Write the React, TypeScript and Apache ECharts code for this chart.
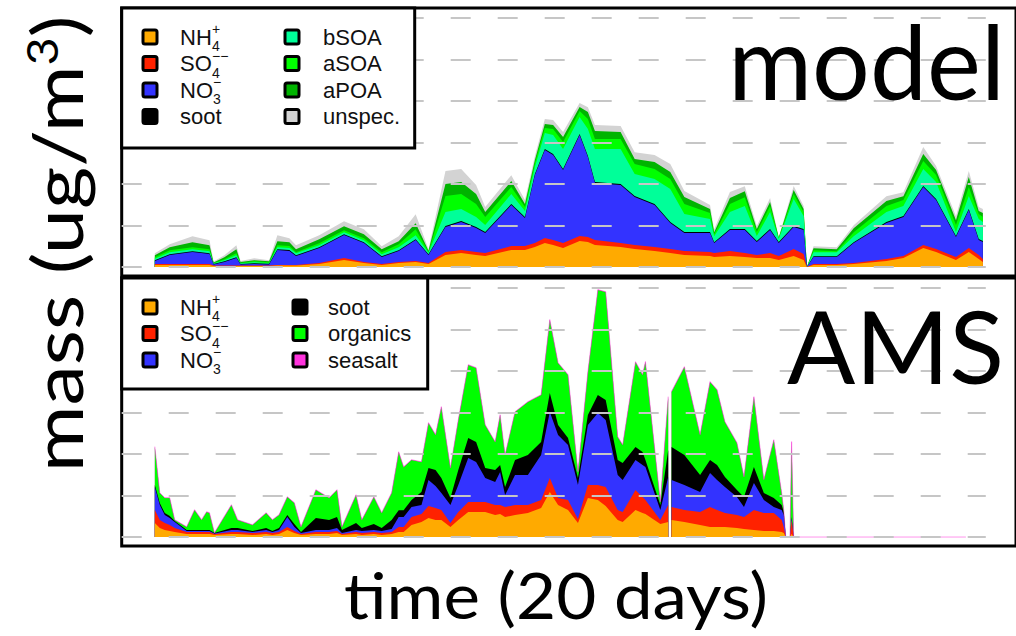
import React, { useEffect, useRef } from "react";
import * as echarts from "echarts";

// ---------- model panel (time in days, mass in ug/m3) ----------
const modelDays = [0, 0.36, 0.91, 1.32, 1.42, 1.68, 1.97, 2.07, 2.4, 2.76, 2.96, 3.25, 3.41, 3.97, 4.57, 5.05, 5.48, 5.89, 6.3, 6.61, 7.02, 7.4, 7.76, 7.98, 8.61, 8.94, 9.18, 9.42, 9.62, 9.86, 10.26, 10.46, 10.63, 11.25, 11.59, 12.07, 12.45, 12.79, 13.41, 13.51, 13.89, 14.25, 14.54, 14.86, 15.07, 15.43, 15.67, 15.75, 15.91, 16.47, 16.88, 17.67, 18.08, 18.56, 18.87, 19.35, 19.66, 19.9, 20.0];
const modelNH4 = [0.24, 0.24, 0.24, 0.24, 0.12, 0.12, 0.12, 0.12, 0.12, 0.12, 0.18, 0.18, 0.18, 0.36, 0.84, 0.48, 0.24, 0.48, 0.6, 0.36, 1.45, 1.69, 1.45, 1.33, 2.05, 2.05, 2.41, 2.89, 2.65, 2.29, 3.13, 3.01, 2.65, 2.41, 2.17, 1.93, 1.69, 1.45, 1.33, 1.2, 1.33, 1.2, 1.08, 1.08, 0.84, 1.33, 0.84, 0, 0.24, 0.24, 0.36, 0.72, 1.08, 2.29, 1.81, 0.84, 1.81, 0.96, 0.6];
const modelSO4 = [0.12, 0.12, 0.12, 0.12, 0.06, 0.06, 0.06, 0.06, 0.06, 0.06, 0.06, 0.06, 0.06, 0.12, 0.24, 0.12, 0.12, 0.12, 0.12, 0.12, 0.36, 0.36, 0.36, 0.36, 0.48, 0.48, 0.48, 0.6, 0.6, 0.6, 0.6, 0.6, 0.6, 0.48, 0.48, 0.48, 0.48, 0.48, 0.48, 0.48, 0.6, 0.48, 0.36, 0.6, 0.48, 0.84, 0.72, 0, 0.12, 0.12, 0.12, 0.24, 0.24, 0.36, 0.36, 0.36, 0.48, 0.48, 0.36];
const modelNO3 = [0.36, 1.08, 1.45, 1.2, 0.12, 0.42, 0.9, 0.12, 0.18, 0.12, 1.8, 1.7, 1.08, 1.8, 2.77, 2.29, 0.84, 1.33, 2.53, 0.96, 3.01, 3.37, 2.89, 2.41, 4.94, 3.37, 8.19, 10.6, 10.24, 8.8, 12.17, 9.64, 6.87, 6.99, 5.78, 5.06, 3.13, 2.17, 2.29, 1.2, 2.53, 2.77, 1.57, 2.77, 1.57, 2.65, 2.89, 0, 0.84, 0.84, 2.41, 4.34, 4.7, 6.99, 5.9, 2.41, 4.58, 1.81, 2.05];
const modelSoot = [0.1, 0.1, 0.1, 0.1, 0.08, 0.1, 0.1, 0.08, 0.1, 0.1, 0.1, 0.1, 0.1, 0.1, 0.1, 0.1, 0.1, 0.1, 0.1, 0.1, 0.12, 0.12, 0.12, 0.12, 0.12, 0.12, 0.12, 0.12, 0.12, 0.12, 0.12, 0.12, 0.12, 0.12, 0.12, 0.12, 0.12, 0.12, 0.12, 0.12, 0.12, 0.12, 0.12, 0.12, 0.12, 0.12, 0.12, 0, 0.1, 0.1, 0.1, 0.12, 0.12, 0.12, 0.12, 0.12, 0.12, 0.12, 0.12];
const modelBSOA = [0.18, 0.24, 0.24, 0.24, 0.06, 0.12, 0.24, 0.06, 0.12, 0.06, 0.24, 0.24, 0.24, 0.24, 0.24, 0.24, 0.24, 0.36, 0.48, 0.18, 1.69, 1.45, 1.2, 0.84, 1.2, 0.72, 0.84, 1.93, 2.29, 2.41, 2.05, 3.25, 3.98, 4.22, 2.65, 3.01, 3.98, 2.17, 1.57, 0.72, 2.05, 2.77, 0.6, 2.05, 0.36, 3.25, 1.57, 0, 0.48, 0.48, 0.72, 1.2, 1.2, 2.05, 2.05, 0.48, 1.57, 2.41, 2.29];
const modelASOA = [0.18, 0.24, 0.24, 0.24, 0.06, 0.12, 0.24, 0.06, 0.12, 0.12, 0.24, 0.24, 0.12, 0.24, 0.24, 0.24, 0.24, 0.36, 0.72, 0.12, 1.93, 1.81, 1.57, 0.96, 0.84, 0.48, 0.48, 0.6, 0.72, 0.84, 0.72, 1.2, 1.2, 1.2, 1.2, 1.2, 1.2, 1.2, 0.72, 0.24, 0.96, 1.08, 0.48, 0.72, 0.12, 0.6, 0.48, 0, 0.24, 0.12, 0.48, 0.72, 0.72, 0.96, 0.84, 0.84, 1.08, 0.6, 0.6];
const modelAPOA = [0.24, 0.36, 0.6, 0.48, 0.06, 0.24, 0.48, 0.12, 0.12, 0.12, 0.48, 0.48, 0.36, 0.48, 0.48, 0.48, 0.36, 0.36, 0.72, 0.12, 1.45, 1.45, 1.2, 0.6, 0.72, 0.36, 0.36, 0.48, 0.48, 0.6, 0.48, 0.84, 0.96, 0.84, 0.6, 0.84, 0.84, 0.84, 0.48, 0.24, 0.72, 0.72, 0.36, 0.48, 0.06, 0.48, 0.36, 0, 0.24, 0.24, 0.48, 0.6, 0.48, 0.84, 0.6, 0.6, 1.2, 0.36, 0.48];
const modelUnspec = [0.24, 0.36, 0.72, 0.6, 0.12, 0.24, 0.48, 0.12, 0.24, 0.12, 0.72, 0.48, 0.48, 0.48, 0.6, 0.6, 0.36, 0.6, 1.08, 0.18, 1.57, 1.57, 1.08, 0.6, 0.72, 0.48, 0.48, 0.6, 0.6, 0.6, 0.48, 0.6, 0.72, 0.72, 0.84, 0.84, 0.96, 0.72, 0.48, 0.36, 0.72, 0.6, 0.36, 0.48, 0.06, 0.48, 0.36, 0, 0.24, 0.24, 0.36, 0.6, 0.48, 0.84, 0.48, 0.48, 0.72, 0.48, 0.48];

// ---------- AMS panel ----------
const amsDays = [0, 0.12, 0.24, 0.36, 0.48, 0.77, 0.96, 1.13, 1.25, 1.32, 1.44, 1.85, 2.0, 2.36, 2.69, 2.84, 3.0, 3.2, 3.37, 3.53, 3.89, 4.21, 4.4, 4.52, 4.86, 5.0, 5.29, 5.48, 5.72, 5.89, 6.01, 6.2, 6.44, 6.61, 6.78, 6.92, 7.14, 7.33, 7.57, 7.76, 7.98, 8.22, 8.34, 8.46, 8.7, 9.01, 9.33, 9.54, 9.74, 9.98, 10.22, 10.46, 10.7, 10.89, 11.18, 11.3, 11.61, 11.78, 11.85, 12.21, 12.4, 12.44, 12.48, 12.79, 13.17, 13.41, 13.58, 13.77, 14.06, 14.23, 14.47, 14.71, 14.95, 15.14, 15.19, 15.24, 15.34, 15.38, 15.43, 19.59];
const amsNH4 = [1.69, 1.08, 0.84, 0.72, 0.6, 0.36, 0.36, 0.36, 0.36, 0.36, 0.24, 0.36, 0.36, 0.24, 0.36, 0.24, 0.36, 0.84, 0.48, 0.24, 0.36, 0.36, 0.48, 0.24, 0.36, 0.24, 0.36, 0.24, 0.36, 0.6, 0.6, 1.45, 1.81, 2.29, 2.05, 2.05, 1.2, 2.05, 3.01, 3.01, 3.01, 2.65, 2.77, 2.41, 2.65, 2.89, 3.49, 5.42, 3.86, 3.25, 1.69, 4.7, 4.46, 3.73, 2.05, 1.81, 3.25, 2.89, 2.77, 1.57, 1.81, null, 2.05, 1.81, 1.45, 1.2, 1.2, 1.2, 1.08, 0.96, 0.84, 0.72, 0.72, 0.6, 0.48, 0, 0, 0.36, 0, 0];
const amsSO4 = [1.57, 0.96, 0.84, 0.72, 0.48, 0.24, 0.24, 0.24, 0.24, 0.24, 0.12, 0.24, 0.24, 0.24, 0.24, 0.24, 0.24, 0.36, 0.24, 0.12, 0.24, 0.24, 0.24, 0.12, 0.24, 0.24, 0.24, 0.24, 0.24, 0.6, 0.6, 0.96, 0.96, 1.45, 1.45, 1.2, 0.48, 0.96, 1.2, 1.2, 1.2, 1.2, 1.08, 1.2, 1.2, 0.96, 0.96, 1.69, 0.84, 1.2, 0.48, 1.57, 1.81, 2.29, 1.2, 1.2, 2.41, 1.93, 1.69, 0.48, 2.05, null, 1.57, 1.45, 1.57, 2.41, 2.05, 1.69, 1.57, 1.45, 2.41, 2.17, 2.17, 1.45, 0.72, 0, 0, 1.69, 0, 0];
const amsNO3 = [2.77, 1.81, 0.96, 0.84, 0.72, 0.12, 0.12, 0.12, 0.12, 0.12, 0.06, 0.24, 0.24, 0.12, 0.24, 0.12, 0.24, 1.2, 0.48, 0.12, 0.24, 0.24, 0.36, 0.12, 0.24, 0.24, 0.24, 0.24, 0.36, 1.2, 1.2, 1.2, 1.08, 3.13, 2.65, 2.05, 2.17, 3.25, 5.3, 4.82, 2.89, 2.77, 3.98, 1.45, 3.61, 3.61, 5.42, 7.95, 7.59, 6.63, 4.1, 7.23, 8.67, 8.07, 4.22, 3.86, 3.61, 3.86, 3.98, 1.2, 3.37, null, 3.25, 3.01, 2.41, 4.1, 3.61, 3.13, 2.17, 1.2, 3.25, 1.57, 0.72, 1.2, 1.45, 0, 0, 0.24, 0, 0];
const amsSoot = [0.24, 0.24, 0.24, 0.24, 0.12, 0.12, 0.12, 0.12, 0.12, 0.12, 0.06, 0.24, 0.24, 0.12, 0.24, 0.12, 0.24, 0.24, 0.36, 0.12, 1.45, 1.2, 1.33, 0.36, 0.84, 0.36, 0.72, 0.36, 1.08, 0.84, 0.84, 0.84, 1.57, 1.45, 1.93, 1.81, 0.84, 1.81, 2.41, 2.41, 1.2, 1.45, 0.84, 0.96, 1.81, 2.41, 1.57, 2.29, 1.2, 0.84, 0.84, 1.2, 2.17, 2.41, 1.81, 2.05, 1.57, 1.57, 0.84, 0.6, 3.25, null, 3.98, 3.61, 2.05, 1.57, 1.81, 1.2, 0.84, 1.2, 1.93, 0.84, 1.08, 0.6, 0.36, 0, 0, 0.12, 0, 0];
const amsOrganics = [4.58, 1.2, 1.81, 2.17, 0.12, 0.36, 2.41, 1.2, 2.17, 2.05, 0, 2.77, 0.96, 0.72, 1.81, 1.33, 1.57, 2.17, 2.53, 0.6, 3.37, 2.65, 3.25, 0.36, 3.37, 0.96, 3.25, 1.81, 3.25, 6.99, 5.18, 4.82, 3.61, 5.42, 4.22, 8.55, 3.61, 6.02, 8.8, 8.92, 5.18, 3.37, 6.02, 3.86, 5.78, 6.39, 5.66, 8.8, 7.47, 7.59, 0.72, 5.18, 12.65, 13.01, 2.77, 2.17, 10.24, 9.28, 11.81, 0.36, 6.39, null, 6.63, 10.6, 4.82, 9.4, 9.04, 6.63, 5.66, 2.41, 8.43, 1.57, 6.99, 1.45, 0.24, 0, 0, 9.04, 0, 0];
const amsSeasalt = [0.04, 0.04, 0.04, 0.04, 0.04, 0.04, 0.04, 0.04, 0.04, 0.04, 0.04, 0.04, 0.04, 0.04, 0.04, 0.04, 0.04, 0.04, 0.04, 0.04, 0.04, 0.04, 0.04, 0.04, 0.04, 0.04, 0.04, 0.04, 0.04, 0.04, 0.04, 0.04, 0.04, 0.04, 0.04, 0.04, 0.04, 0.04, 0.04, 0.04, 0.04, 0.04, 0.04, 0.04, 0.04, 0.04, 0.04, 0.04, 0.04, 0.04, 0.04, 0.04, 0.04, 0.04, 0.04, 0.04, 0.04, 0.04, 0.04, 0.04, 0.04, null, 0.04, 0.04, 0.04, 0.04, 0.04, 0.04, 0.04, 0.04, 0.04, 0.04, 0.04, 0.04, 0.04, 0, 0, 0.04, 0, 0];

// horizontal reference lines (ug/m3)
const gridValues = [0, 5, 10, 15, 20, 25, 30];
const gridLineEndDay = 20.07;

// ---------- styling / layout ----------
const X_MIN = -0.8;
const X_MAX = 20.8;
const Y_MIN = -1.08;
const Y_MAX = 31.2;
const PLOT_LEFT = 121.7;
const PLOT_WIDTH = 898.6;
const PANEL_H = 268;
const TOP1 = 8;
const TOP2 = 278;

const C = {
  nh4: "#ffaa00",
  so4: "#ff2200",
  no3: "#3333ff",
  soot: "#000000",
  bsoa: "#00ff99",
  asoa: "#00ff00",
  apoa: "#00b400",
  unspec: "#d3d3d3",
  org: "#00ff00",
  seasalt: "#ff33dd",
};

type Layer = { name: string; values: (number | null)[]; color: string };

function cumulativeSeries(days: number[], layers: Layer[], axis: number, topLine?: string) {
  const n = days.length;
  let run: (number | null)[] = new Array(n).fill(0);
  const cums: (number | null)[][] = [];
  layers.forEach((l) => {
    run = run.map((v, i) => (v == null || l.values[i] == null ? null : (v as number) + (l.values[i] as number)));
    cums.push(run);
  });
  const out: any[] = [];
  for (let k = layers.length - 1; k >= 0; k--) {
    const isTop = k === layers.length - 1 && !!topLine;
    out.push({
      type: "line",
      name: layers[k].name,
      xAxisIndex: axis,
      yAxisIndex: axis,
      data: days.map((d, i) => [d, cums[k][i] == null ? "-" : cums[k][i]]),
      symbol: "none",
      showSymbol: false,
      silent: true,
      connectNulls: false,
      lineStyle: isTop ? { width: 0.7, color: topLine, opacity: 0.75 } : { width: 0, opacity: 0 },
      areaStyle: { color: layers[k].color, opacity: 1 },
      itemStyle: { color: layers[k].color },
      emphasis: { disabled: true },
      z: 2,
    });
  }
  return out;
}

function gridLineSeries(axis: number) {
  return {
    type: "line",
    xAxisIndex: axis,
    yAxisIndex: axis,
    data: [],
    silent: true,
    z: 5,
    markLine: {
      silent: true,
      symbol: ["none", "none"],
      label: { show: false },
      emphasis: { disabled: true },
      lineStyle: { color: "#c6c6c6", width: 2, type: [20, 27] },
      data: gridValues.map((v) => [{ coord: [X_MIN, v] }, { coord: [gridLineEndDay, v] }]),
    },
  };
}

const LEG_FONT = "Liberation Sans, Arial, sans-serif";

function legendEntry(cx: number, tx: number, y: number, color: string, label: any): any[] {
  const els: any[] = [
    {
      type: "rect",
      shape: { x: cx - 7, y: y - 7, width: 14, height: 14, r: 2 },
      style: { fill: color, stroke: "#000", lineWidth: 3 },
      z: 101,
    },
  ];
  const base = typeof label === "string" ? label : label.base;
  els.push({
    type: "text",
    x: tx,
    y: y,
    style: { text: base, font: `22px ${LEG_FONT}`, fill: "#111", align: "left", verticalAlign: "middle" },
    z: 101,
  });
  if (typeof label !== "string") {
    const sx = tx + label.w;
    els.push({
      type: "text",
      x: sx,
      y: y - 8,
      style: { text: label.sup, font: `14px ${LEG_FONT}`, fill: "#111", align: "left", verticalAlign: "middle" },
      z: 101,
    });
    els.push({
      type: "text",
      x: sx,
      y: y + 9,
      style: { text: label.sub, font: `14px ${LEG_FONT}`, fill: "#111", align: "left", verticalAlign: "middle" },
      z: 101,
    });
  }
  return els;
}

const NH4L = { base: "NH", sup: "+", sub: "4", w: 32 };
const SO4L = { base: "SO", sup: "−−", sub: "4", w: 32 };
const NO3L = { base: "NO", sup: "−", sub: "3", w: 33 };

function buildGraphics(): any[] {
  const g: any[] = [];
  // model legend box
  g.push({
    type: "rect",
    shape: { x: PLOT_LEFT, y: TOP1, width: 293, height: 140 },
    style: { fill: "#fff", stroke: "#000", lineWidth: 3 },
    z: 100,
  });
  const r1 = [37, 63.5, 90, 116.5];
  g.push(...legendEntry(150, 180, r1[0], C.nh4, NH4L));
  g.push(...legendEntry(150, 180, r1[1], C.so4, SO4L));
  g.push(...legendEntry(150, 180, r1[2], C.no3, NO3L));
  g.push(...legendEntry(150, 180, r1[3], C.soot, "soot"));
  g.push(...legendEntry(292, 323, r1[0], C.bsoa, "bSOA"));
  g.push(...legendEntry(292, 323, r1[1], C.asoa, "aSOA"));
  g.push(...legendEntry(292, 323, r1[2], C.apoa, "aPOA"));
  g.push(...legendEntry(292, 323, r1[3], C.unspec, "unspec."));
  // AMS legend box
  g.push({
    type: "rect",
    shape: { x: PLOT_LEFT, y: TOP2, width: 306, height: 111 },
    style: { fill: "#fff", stroke: "#000", lineWidth: 3 },
    z: 100,
  });
  const r2 = [307, 333.5, 360];
  g.push(...legendEntry(150, 180, r2[0], C.nh4, NH4L));
  g.push(...legendEntry(150, 180, r2[1], C.so4, SO4L));
  g.push(...legendEntry(150, 180, r2[2], C.no3, NO3L));
  g.push(...legendEntry(300, 328, r2[0], C.soot, "soot"));
  g.push(...legendEntry(300, 328, r2[1], C.org, "organics"));
  g.push(...legendEntry(300, 328, r2[2], C.seasalt, "seasalt"));

  // panel titles
  g.push({
    type: "text",
    x: 1005,
    y: 60,
    style: { text: "model", font: "102px Lato", fill: "#000", align: "right", verticalAlign: "middle" },
    z: 101,
  });
  g.push({
    type: "text",
    x: 1004,
    y: 345,
    style: { text: "AMS", font: "101px Lato", fill: "#000", align: "right", verticalAlign: "middle" },
    z: 101,
  });
  // axis titles
  g.push({
    type: "text",
    x: 56,
    y: 244,
    rotation: Math.PI / 2,
    scaleX: 1.16,
    style: {
      text: "mass (ug/m{s|3})",
      font: "70px Lato",
      fill: "#000",
      align: "center",
      verticalAlign: "middle",
      rich: { s: { fontSize: 42, fontFamily: "Lato", verticalAlign: "top", fill: "#000" } },
    },
    z: 101,
  });
  g.push({
    type: "text",
    x: 556,
    y: 594,
    scaleX: 1.08,
    style: { text: "time (20 days)", font: "64px Lato", fill: "#000", align: "center", verticalAlign: "middle" },
    z: 101,
  });
  return g;
}

export default function App() {
  const ref = useRef<HTMLDivElement>(null);
  useEffect(() => {
    if (!ref.current) return;
    const chart = echarts.init(ref.current, null, { renderer: "svg", width: 1016, height: 636 });
    const modelLayers: Layer[] = [
      { name: "NH4+", values: modelNH4, color: C.nh4 },
      { name: "SO4--", values: modelSO4, color: C.so4 },
      { name: "NO3-", values: modelNO3, color: C.no3 },
      { name: "soot", values: modelSoot, color: C.soot },
      { name: "bSOA", values: modelBSOA, color: C.bsoa },
      { name: "aSOA", values: modelASOA, color: C.asoa },
      { name: "aPOA", values: modelAPOA, color: C.apoa },
      { name: "unspec.", values: modelUnspec, color: C.unspec },
    ];
    const amsLayers: Layer[] = [
      { name: "NH4+", values: amsNH4, color: C.nh4 },
      { name: "SO4--", values: amsSO4, color: C.so4 },
      { name: "NO3-", values: amsNO3, color: C.no3 },
      { name: "soot", values: amsSoot, color: C.soot },
      { name: "organics", values: amsOrganics, color: C.org },
      { name: "seasalt", values: amsSeasalt, color: C.seasalt },
    ];
    const gridBase = {
      left: PLOT_LEFT,
      width: PLOT_WIDTH,
      height: PANEL_H,
      show: true,
      borderColor: "#000",
      borderWidth: 3,
      backgroundColor: "transparent",
      containLabel: false,
    };
    const xAx = (i: number) => ({
      type: "value",
      gridIndex: i,
      min: X_MIN,
      max: X_MAX,
      show: false,
      splitLine: { show: false },
    });
    const yAx = (i: number) => ({
      type: "value",
      gridIndex: i,
      min: Y_MIN,
      max: Y_MAX,
      show: false,
      splitLine: { show: false },
    });
    chart.setOption({
      animation: false,
      backgroundColor: "#fff",
      grid: [
        { ...gridBase, top: TOP1 },
        { ...gridBase, top: TOP2 },
      ],
      xAxis: [xAx(0), xAx(1)],
      yAxis: [yAx(0), yAx(1)],
      series: [
        ...cumulativeSeries(modelDays, modelLayers, 0),
        gridLineSeries(0),
        ...cumulativeSeries(amsDays, amsLayers, 1, C.seasalt),
        gridLineSeries(1),
      ],
      graphic: buildGraphics(),
    });
    return () => chart.dispose();
  }, []);
  return (
    <div
      ref={ref}
      style={{ position: "absolute", left: 0, top: 0, width: 1016, height: 636, background: "#fff" }}
    />
  );
}
